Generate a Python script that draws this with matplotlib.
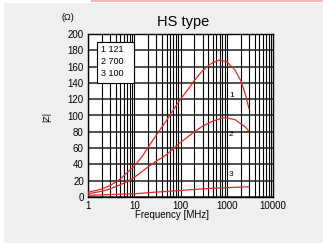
import matplotlib
matplotlib.use("Agg")
import matplotlib.pyplot as plt
from matplotlib.patches import Rectangle

# values
freq_1 = [1, 1.5, 2, 3, 5, 7, 10, 15, 20, 30, 50, 70, 100, 150, 200, 300, 400, 500, 700,
          1000, 1500, 2000, 2500, 3000]
imp_1 = [6, 8, 10, 14, 22, 30, 38, 50, 61, 76, 94, 107, 120, 133, 143, 155, 161, 165, 168,
         166, 156, 143, 127, 109]

freq_2 = [1, 2, 3, 5, 7, 10, 20, 30, 50, 100, 200, 300, 500, 800, 1000, 1500, 2000, 2500, 3000]
imp_2 = [4, 7, 10, 15, 19, 24, 37, 44, 52, 67, 80, 87, 93, 97, 97, 95, 90, 86, 81]

freq_3 = [1, 3, 10, 30, 100, 300, 1000, 3000]
imp_3 = [2, 3, 4, 6, 8, 10, 11.5, 12.5]

curve_labels = ["1", "2", "3"]
label_pos = [(1250, 124), (1250, 77), (1250, 27)]
legend_lines = ["1 121", "2 700", "3 100"]

x_ticks = [1, 10, 100, 1000, 10000]
x_tick_labels = ["1", "10", "100", "1000", "10000"]
y_ticks = list(range(0, 201, 20))

RED = "#e8282c"
BG = "#eeefee"
FONT = "Liberation Sans"

plt.rcParams["font.family"] = FONT

fig = plt.figure(figsize=(3.23, 2.43), dpi=100)
fig.patch.set_facecolor("white")
fig.patches.append(Rectangle((4 / 323, 0), 1, 1 - 3 / 243, transform=fig.transFigure,
                             facecolor=BG, edgecolor="none", zorder=-2))
fig.patches.append(Rectangle((91 / 323, 1 - 1.6 / 243), 1, 1.6 / 243, transform=fig.transFigure,
                             facecolor="#f4b6ba", edgecolor="none", zorder=-1))

ax = fig.add_axes([88 / 323, 46 / 243, 185 / 323, 163 / 243])
ax.set_facecolor("white")
ax.set_xscale("log")
ax.set_xlim(1, 10000)
ax.set_ylim(0, 200)

# grid: every decade minor in black, horizontal every 20
for dec in [1, 10, 100, 1000]:
    for m in range(1, 10):
        ax.axvline(dec * m, color="black", lw=0.8, zorder=1)
for y in y_ticks:
    ax.axhline(y, color="#222222", lw=1.1, zorder=1)

ax.plot(freq_1, imp_1, color=RED, lw=0.9, zorder=3)
ax.plot(freq_2, imp_2, color=RED, lw=0.9, zorder=3)
ax.plot(freq_3, imp_3, color=RED, lw=0.9, zorder=3)

for lab, (x, y) in zip(curve_labels, label_pos):
    ax.text(x, y, lab, fontsize=6, ha="center", va="center", zorder=4)

# legend box
box_x0 = (97 - 88) / 185
box_x1 = (134 - 88) / 185
box_y0 = (197 - 83) / 163
box_y1 = (197 - 42) / 163
ax.add_patch(Rectangle((box_x0, box_y0), box_x1 - box_x0, box_y1 - box_y0,
                       transform=ax.transAxes, facecolor="white", edgecolor="black",
                       lw=0.8, zorder=5))
for i, line in enumerate(legend_lines):
    ax.text((101 - 88) / 185, (197 - 50 - 12 * i) / 163, line, transform=ax.transAxes,
            fontsize=6.5, ha="left", va="center", zorder=6)

ax.set_xticks(x_ticks)
ax.set_xticklabels(x_tick_labels)
ax.xaxis.set_minor_locator(matplotlib.ticker.NullLocator())
ax.set_yticks(y_ticks)
ax.tick_params(axis="both", length=0, labelsize=7, pad=3)

for s in ax.spines.values():
    s.set_color("black")
    s.set_linewidth(1.0)

fig.text(183 / 323, 1 - 22 / 243, "HS type", fontsize=10.5, ha="center", va="center")
fig.text(68 / 323, 1 - 17 / 243, "(Ω)", fontsize=6.5, ha="center", va="center")
fig.text(47 / 323, 1 - 117 / 243, "|Z|", fontsize=6.5, ha="center", va="center", rotation=90)
fig.text(172 / 323, 1 - 215 / 243, "Frequency [MHz]", fontsize=7, ha="center", va="center")

fig.savefig("out.png", dpi=100, facecolor=fig.get_facecolor())
